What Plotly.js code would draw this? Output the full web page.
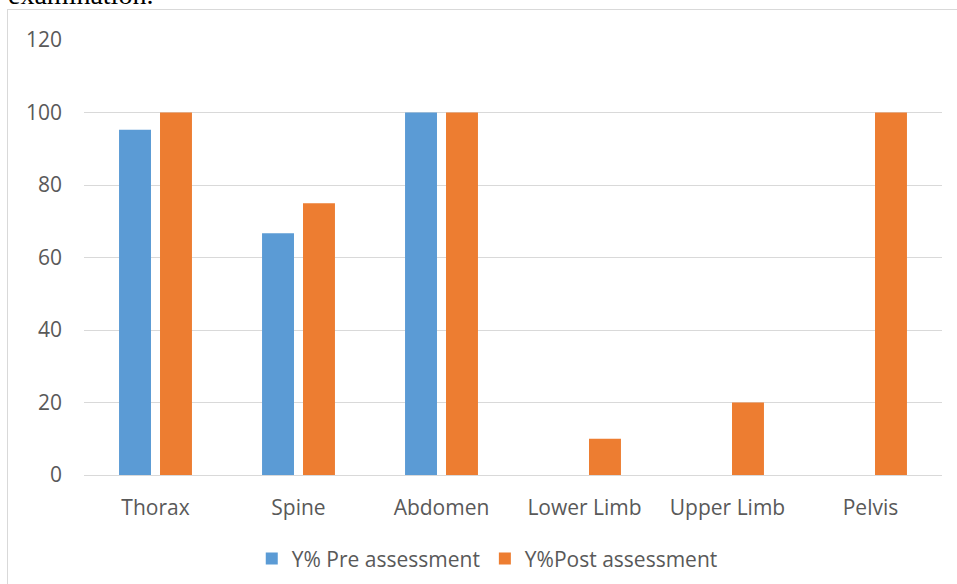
<!DOCTYPE html>
<html>
<head>
<meta charset="utf-8">
<script src="https://cdn.plot.ly/plotly-3.0.1.min.js"></script>
<style>
  html, body { margin: 0; padding: 0; background: #fff; overflow: hidden; }
  #wrap { position: relative; width: 957px; height: 584px; }
  #chart { position: absolute; left: 0; top: 0; width: 957px; height: 584px; }
  #frame { position: absolute; left: 7px; top: 9px; width: 980px; height: 620px;
           border: 1.5px solid #D9D9D9; pointer-events: none; }
  #caption { position: absolute; left: 8px; top: -19px; font-family: "Liberation Serif", "DejaVu Serif", serif;
             font-size: 28px; line-height: 28px; color: #000; white-space: nowrap; }
</style>
</head>
<body>
<div id="wrap">
  <div id="caption">examination.</div>
  <div id="frame"></div>
  <div id="chart"></div>
</div>
<script>
const categories = ["Thorax", "Spine", "Abdomen", "Lower Limb", "Upper Limb", "Pelvis"];
const preValues  = [95.24, 66.67, 100, 0, 0, 0];
const postValues = [100, 75, 100, 10, 20, 100];
const preName  = "Y% Pre assessment";
const postName = "Y%Post assessment";
const yTicks = [0, 20, 40, 60, 80, 100, 120];

const font = { family: "Open Sans, sans-serif", size: 21, color: "#595959" };

const traces = [
  { type: "bar", name: preName, x: categories, y: preValues,
    marker: { color: "#5B9BD5" }, hoverinfo: "x+y" },
  { type: "bar", name: postName, x: categories, y: postValues,
    marker: { color: "#ED7D31" }, hoverinfo: "x+y" }
];

const layout = {
  width: 957, height: 584,
  margin: { l: 84, r: 15, t: 40, b: 109, pad: 0, autoexpand: false },
  paper_bgcolor: "rgba(0,0,0,0)", plot_bgcolor: "rgba(0,0,0,0)",
  font: font,
  barmode: "group", bargap: 0.427, bargroupgap: 0.22,
  xaxis: { type: "category", showgrid: false, showline: false, zeroline: false,
           ticks: "", ticklabelstandoff: 18, tickfont: font, fixedrange: true, automargin: false },
  yaxis: { range: [0, 120], tickvals: yTicks, ticktext: yTicks.map(String),
           showgrid: true, gridcolor: "#D9D9D9", gridwidth: 1.4,
           zeroline: true, zerolinecolor: "#D9D9D9", zerolinewidth: 1.4,
           showline: false, ticks: "", ticklabelstandoff: 21, tickfont: font, fixedrange: true, automargin: false },
  showlegend: true,
  legend: { orientation: "h", x: 0.47, xanchor: "center", y: -0.193, yanchor: "middle",
            font: font, itemwidth: 30, traceorder: "normal", bgcolor: "rgba(0,0,0,0)" }
};

Plotly.newPlot("chart", traces, layout, { displayModeBar: false, staticPlot: false });
</script>
</body>
</html>
